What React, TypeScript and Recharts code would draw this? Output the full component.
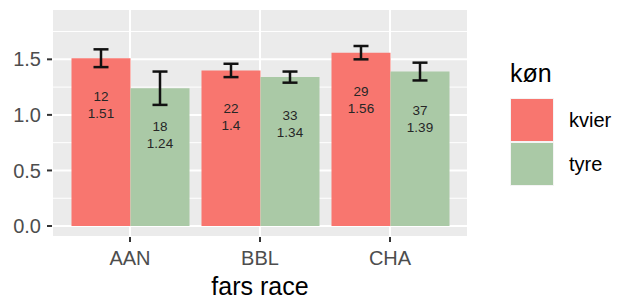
import { BarChart, Bar, XAxis, YAxis, CartesianGrid, ErrorBar, LabelList, Label } from "recharts";

const races = ["AAN", "BBL", "CHA"];
const kvierMean = [1.51, 1.4, 1.56];
const tyreMean = [1.24, 1.34, 1.39];
const kvierN = [12, 22, 29];
const tyreN = [18, 33, 37];
const kvierErr = [0.08, 0.06, 0.06];
const tyreErr = [0.15, 0.05, 0.08];
const yTicks = [0, 0.5, 1, 1.5];
const yMinor = [0.25, 0.75, 1.25, 1.75];

const KVIER = "#F8766F";
const TYRE = "#AAC9A6";
const FONT = "'Liberation Sans', Arial, sans-serif";

const data = races.map((race, i) => ({
  race,
  kvier: kvierMean[i],
  tyre: tyreMean[i],
  kvierErr: kvierErr[i],
  tyreErr: tyreErr[i],
}));

// count on the first line, mean on the second, a bit below the bar top
const barLabel = (counts: number[]) => (props: any) => {
  const { x, y, width, value, index } = props;
  const cx = x + width / 2;
  return (
    <text textAnchor="middle" fontSize={13.5} fill="#262626" fontFamily={FONT}>
      <tspan x={cx} y={y + 43}>{counts[index]}</tspan>
      <tspan x={cx} y={y + 60}>{value}</tspan>
    </text>
  );
};

function LegendBox() {
  const items = [
    { name: "kvier", color: KVIER },
    { name: "tyre", color: TYRE },
  ];
  return (
    <div style={{ position: "absolute", left: 510, top: 58 }}>
      <div style={{ fontSize: 25, lineHeight: "30px", color: "#000" }}>køn</div>
      {items.map((it, i) => (
        <div key={it.name} style={{ position: "absolute", top: 40 + i * 44, left: 0, display: "flex", alignItems: "center" }}>
          <div style={{ width: 44, height: 44, boxSizing: "border-box", background: it.color, border: "1px solid #f4f4f4" }} />
          <div style={{ marginLeft: 15, fontSize: 20, color: "#000" }}>{it.name}</div>
        </div>
      ))}
    </div>
  );
}

export default function App() {
  return (
    <div style={{ position: "absolute", left: 0, top: 0, width: 620, height: 300, background: "#fff", fontFamily: FONT }}>
      <BarChart
        width={620}
        height={300}
        data={data}
        margin={{ top: 9, right: 152, bottom: 0, left: 0 }}
        barCategoryGap={6.5}
        barGap={0}
      >
        <CartesianGrid fill="#EBEBEB" stroke="#fff" strokeWidth={2} />
        <CartesianGrid stroke="#fff" strokeWidth={1} vertical={false} horizontalValues={yMinor} />
        <XAxis
          dataKey="race"
          padding={{ left: 13, right: 13 }}
          height={63}
          tickSize={5}
          tickMargin={9}
          axisLine={false}
          tickLine={{ stroke: "#333", strokeWidth: 2 }}
          tick={{ fill: "#4D4D4D", fontSize: 20 }}
        >
          <Label
            content={({ viewBox }: any) => (
              <text x={viewBox.x + viewBox.width / 2} y={viewBox.y + 58} textAnchor="middle" fontSize={25} fill="#000">
                fars race
              </text>
            )}
          />
        </XAxis>
        <YAxis
          domain={[-0.099, 1.953]}
          ticks={yTicks}
          tickFormatter={(v: number) => v.toFixed(1)}
          width={52}
          tickSize={5}
          tickMargin={6}
          axisLine={false}
          tickLine={{ stroke: "#333", strokeWidth: 2 }}
          tick={{ fill: "#4D4D4D", fontSize: 20 }}
        />
        <Bar dataKey="kvier" fill={KVIER} isAnimationActive={false}>
          <ErrorBar dataKey="kvierErr" width={7.5} stroke="#111" strokeWidth={2.5} direction="y" />
          <LabelList dataKey="kvier" content={barLabel(kvierN)} />
        </Bar>
        <Bar dataKey="tyre" fill={TYRE} isAnimationActive={false}>
          <ErrorBar dataKey="tyreErr" width={7.5} stroke="#111" strokeWidth={2.5} direction="y" />
          <LabelList dataKey="tyre" content={barLabel(tyreN)} />
        </Bar>
      </BarChart>
      <LegendBox />
    </div>
  );
}
